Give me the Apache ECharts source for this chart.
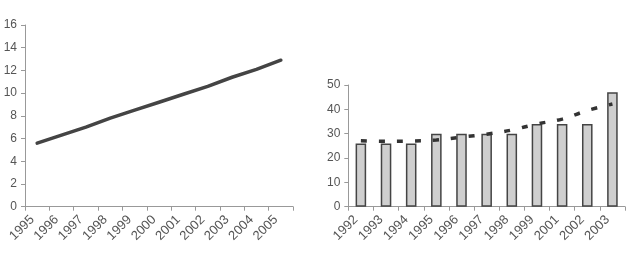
<!DOCTYPE html>
<html><head><meta charset="utf-8">
<script src="https://cdn.jsdelivr.net/npm/echarts@6/dist/echarts.min.js"></script>
<style>html,body{margin:0;padding:0;background:#fff}#c{width:632px;height:260px}</style>
</head><body><div id="c"></div>
<script>
const leftYears = ['1995','1996','1997','1998','1999','2000','2001','2002','2003','2004','2005'];
const leftValues = [5.6, 6.3, 7.0, 7.8, 8.5, 9.2, 9.9, 10.6, 11.4, 12.1, 12.9];
const rightYears = ['1992','1993','1994','1995','1996','1997','1998','1999','2001','2002','2003'];
const barValues = [26, 26, 26, 30, 30, 30, 30, 34, 34, 34, 47];
const trendValues = [27.1, 26.9, 27.0, 27.4, 28.6, 29.8, 31.5, 34.0, 36.0, 39.5, 42.2];

const labelStyle = {color:'#555', fontFamily:'Liberation Sans, Arial, sans-serif', fontSize:12};
const xLabelStyle = {color:'#555', fontFamily:'Liberation Sans, Arial, sans-serif', fontSize:13,
  rotate:45, interval:0, margin:6, padding:[0,7,0,0]};
const axisLine = {show:true, lineStyle:{color:'#999', width:1}};
const axisTick = {show:true, length:4, lineStyle:{color:'#999'}};

const chart = echarts.init(document.getElementById('c'), null, {renderer:'canvas'});
chart.setOption({
  animation:false,
  backgroundColor:'#fff',
  grid:[
    {left:25, top:25, width:268, height:181.7, containLabel:false},
    {left:348.3, top:85, width:276.7, height:121.7, containLabel:false}
  ],
  xAxis:[
    {type:'category', gridIndex:0, data:leftYears, boundaryGap:true,
     axisLine:axisLine, axisTick:Object.assign({interval:0}, axisTick),
     axisLabel:xLabelStyle},
    {type:'category', gridIndex:1, data:rightYears, boundaryGap:true,
     axisLine:axisLine, axisTick:Object.assign({interval:0}, axisTick),
     axisLabel:xLabelStyle}
  ],
  yAxis:[
    {type:'value', gridIndex:0, min:0, max:16, interval:2,
     axisLine:axisLine, axisTick:axisTick, splitLine:{show:false},
     axisLabel:Object.assign({margin:8}, labelStyle)},
    {type:'value', gridIndex:1, min:0, max:50, interval:10,
     axisLine:axisLine, axisTick:axisTick, splitLine:{show:false},
     axisLabel:Object.assign({margin:8}, labelStyle)}
  ],
  series:[
    {type:'line', xAxisIndex:0, yAxisIndex:0, data:leftValues, smooth:false,
     symbol:'none', lineStyle:{color:'#444', width:3.5, join:'round', cap:'round'}},
    {type:'bar', xAxisIndex:1, yAxisIndex:1, data:barValues, barWidth:'42%',
     itemStyle:{color:'#cfcfcf', borderColor:'#444', borderWidth:1.5}},
    {type:'line', xAxisIndex:1, yAxisIndex:1, data:trendValues, smooth:0.4,
     symbol:'none', z:5, lineStyle:{color:'#333', width:3.5, type:[6,12]}}
  ]
});
</script></body></html>
